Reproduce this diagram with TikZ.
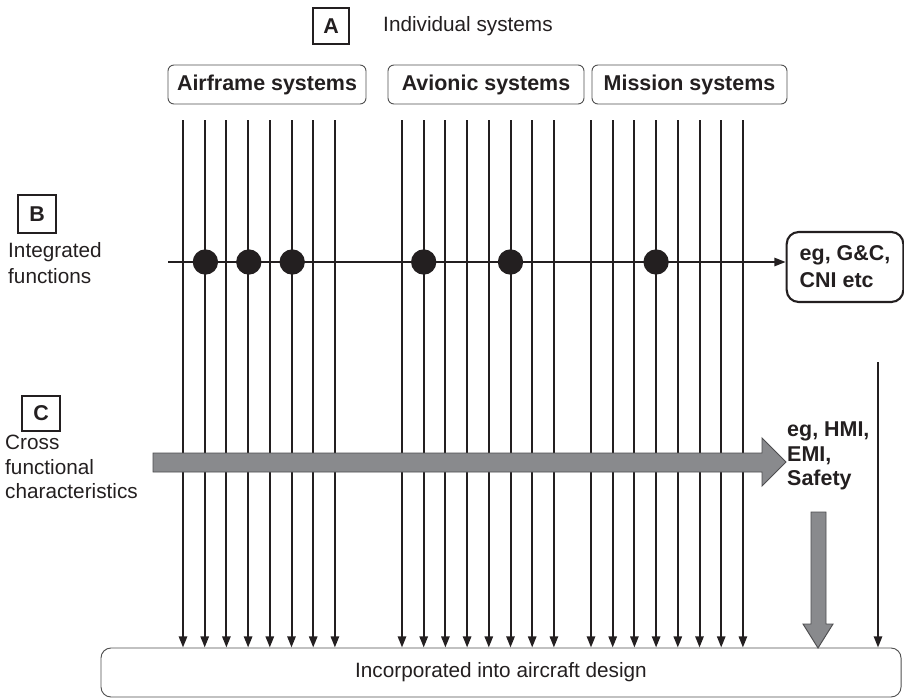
\documentclass[tikz,border=0pt]{standalone}
\usepackage{fontspec}
\setmainfont{Liberation Sans}
\usetikzlibrary{arrows.meta}
\definecolor{ink}{HTML}{231F20}
\definecolor{arrgray}{HTML}{898A8D}
\definecolor{arredge}{HTML}{4D4D4F}
\definecolor{boxedge}{HTML}{505050}
\begin{document}
\begin{tikzpicture}[x=0.03cm,y=-0.03cm,
  reg/.style={font=\fontsize{17.7}{21}\selectfont, inner sep=0pt, text=ink},
  bld/.style={font=\fontsize{18.3}{21}\selectfont\bfseries, inner sep=0pt, text=ink},
  letterbox/.style={draw=ink, line width=1.5pt, font=\fontsize{18.3}{21}\selectfont\bfseries, text=ink, inner sep=0pt, minimum width=1.1cm, minimum height=1.1cm},
  sysbox/.style={draw=boxedge, line width=0.8pt, rounded corners=0.18cm, font=\fontsize{18.3}{21}\selectfont\bfseries, text=ink, inner sep=0pt, minimum height=1.17cm},
  vline/.style={draw=ink, line width=1.7pt, -{Triangle[width=7pt,length=9.5pt]}},
  dot/.style={circle, fill=ink, inner sep=0pt, minimum size=0.76cm},
  grayarrow/.style={fill=arrgray, draw=arredge, line width=0.8pt, line join=miter}
  ]
\useasboundingbox (0,0) rectangle (904,699);

% top labels
\node[letterbox] (A) at (331,26) {A};
\node[reg, anchor=west] (indiv) at (383,26) {Individual systems};

\node[sysbox, minimum width=5.94cm] (air) at (267,84.5) {Airframe systems};
\node[sysbox, minimum width=5.88cm] (avi) at (486,84.5) {Avionic systems};
\node[sysbox, minimum width=5.85cm] (mis) at (689.5,84.5) {Mission systems};

% bottom box
\node[draw=boxedge, line width=0.8pt, rounded corners=0.3cm, minimum width=24cm, minimum height=1.47cm, reg] (bot) at (501,672.5) {Incorporated into aircraft design};

% B row
\node[letterbox, minimum width=1.14cm, minimum height=1.14cm] (B) at (37,214) {B};
\node[reg, anchor=west, align=left, font=\fontsize{17.7}{21.5}\selectfont] (Btxt) at (8,263) {Integrated\\functions};
\node[draw=ink, line width=1.8pt, rounded corners=0.36cm, minimum width=3.5cm, minimum height=2.1cm, bld, align=left, font=\fontsize{18.3}{23}\selectfont\bfseries] (gc) at (845,267) {eg, G\&C,\\CNI etc};

% vertical lines
\foreach \gx [count=\g] in {183,402,591} {
  \foreach \k in {0,...,7} {
    \coordinate (t\g\k) at ({\gx+21.7*\k},120);
    \draw[vline] (t\g\k) -- (t\g\k |- bot.north);
  }
}

% horizontal integration line
\coordinate (hs) at (168,262);
\draw[vline] (hs) -- (hs -| gc.west);
\foreach \nm/\px in {d1/205.4, d2/248.8, d3/292.2, d4/423.7, d5/510.5, d6/656.1}
  \node[dot] (\nm) at (\px,262) {};

% C row
\node[letterbox, minimum width=1.14cm, minimum height=1.05cm] (C) at (41,413.5) {C};
\node[reg, anchor=west, align=left, font=\fontsize{17.7}{21}\selectfont] (Ctxt) at (5,467) {Cross\\functional\\characteristics};

\draw[grayarrow] (153,453) -- (762,453) -- (762,438) -- (786,462) -- (762,486) -- (762,472) -- (153,472) -- cycle;
\node[bld, anchor=west, align=left, font=\fontsize{18.3}{21}\selectfont\bfseries] (hmi) at (787,456) {eg, HMI,\\EMI,\\Safety};

% down gray arrow
\coordinate (dtip) at (818,648);
\draw[grayarrow] (811,512) -- (826,512) -- (826,624) -- (833,624) -- (dtip) -- (803,624) -- (811,624) -- cycle;

% right line
\coordinate (rtop) at (878,362);
\draw[vline] (rtop) -- (rtop |- bot.north);
\end{tikzpicture}
\end{document}
